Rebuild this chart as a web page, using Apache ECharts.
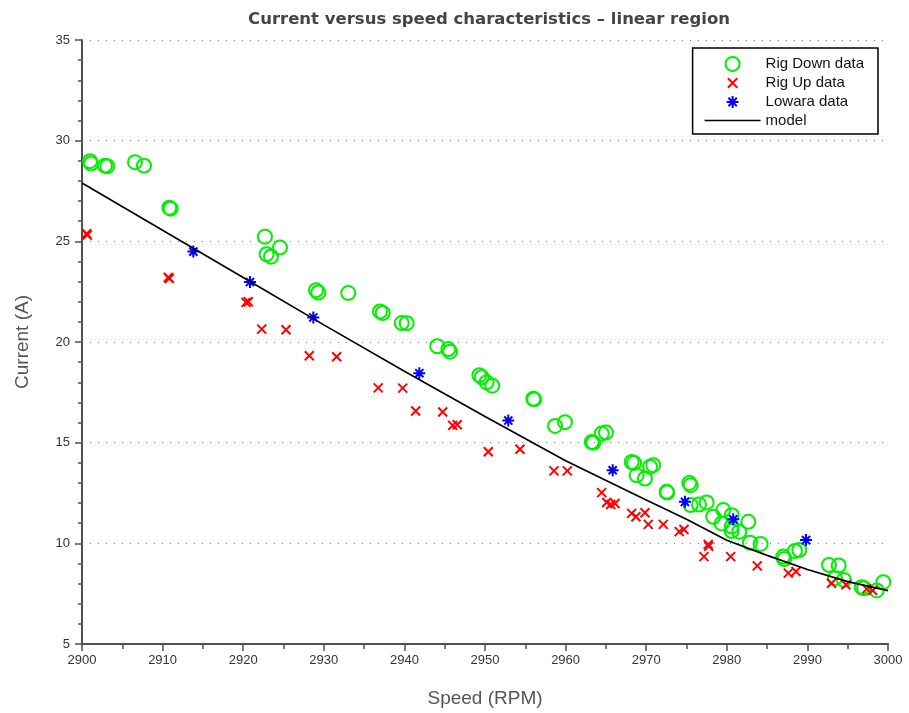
<!DOCTYPE html>
<html>
<head>
<meta charset="utf-8">
<script src="https://cdn.jsdelivr.net/npm/echarts@6/dist/echarts.min.js"></script>
<style>
html,body{margin:0;padding:0;background:#fff;}
#chart{width:909px;height:713px;}
</style>
</head>
<body>
<div id="chart"></div>
<script>
// ---- data ----
const seriesNames = ['Rig Down data', 'Rig Up data', 'Lowara data', 'model'];

const rigDown = [
  [2900.99, 28.98], [2901.12, 28.86], [2902.85, 28.76], [2903.14, 28.73],
  [2906.58, 28.93], [2907.69, 28.76], [2910.83, 26.67], [2911.0, 26.62],
  [2922.7, 25.23], [2922.9, 24.36], [2923.45, 24.24], [2924.57, 24.69],
  [2929.03, 22.57], [2929.32, 22.46], [2933.04, 22.43],
  [2936.97, 21.52], [2937.31, 21.44], [2939.67, 20.94], [2940.29, 20.93],
  [2944.08, 19.79], [2945.45, 19.65], [2945.66, 19.52],
  [2949.3, 18.35], [2949.6, 18.25], [2950.2, 18.0], [2950.9, 17.83],
  [2956.0, 17.18], [2956.1, 17.15], [2958.7, 15.83], [2959.93, 16.02],
  [2963.24, 15.03], [2963.44, 14.99], [2964.48, 15.45], [2965.01, 15.5],
  [2968.2, 14.04], [2968.49, 13.99], [2968.82, 13.38], [2969.85, 13.22],
  [2970.47, 13.8], [2970.88, 13.88], [2972.54, 12.56], [2972.6, 12.52],
  [2975.35, 13.0], [2975.52, 12.89], [2975.52, 11.9], [2976.55, 11.93],
  [2977.5, 12.03], [2978.32, 11.32], [2979.57, 11.65], [2979.37, 10.99],
  [2980.61, 11.4], [2980.61, 10.83], [2980.61, 10.61], [2981.55, 10.58],
  [2982.67, 11.07], [2982.88, 10.03], [2984.2, 9.97],
  [2987.0, 9.34], [2987.13, 9.22], [2988.46, 9.62], [2989.0, 9.67],
  [2992.68, 8.93], [2993.88, 8.9], [2993.42, 8.27], [2994.54, 8.18],
  [2996.74, 7.82], [2997.02, 7.77], [2998.6, 7.66], [2999.42, 8.07]
];

const rigUp = [
  [2900.58, 25.38], [2900.66, 25.31], [2910.71, 23.2], [2910.83, 23.15],
  [2920.35, 21.97], [2920.63, 22.0], [2922.3, 20.64], [2925.31, 20.61],
  [2928.2, 19.32], [2931.6, 19.27], [2936.76, 17.72], [2939.79, 17.71],
  [2941.4, 16.57], [2944.75, 16.52], [2945.99, 15.86], [2946.56, 15.89],
  [2950.41, 14.55], [2954.34, 14.67], [2958.56, 13.6], [2960.21, 13.6],
  [2964.48, 12.52], [2965.1, 12.03], [2965.6, 11.93], [2966.13, 11.98],
  [2968.2, 11.49], [2968.73, 11.32], [2969.85, 11.52], [2970.26, 10.94],
  [2972.12, 10.94], [2974.1, 10.58], [2974.69, 10.69],
  [2977.7, 9.95], [2977.75, 9.85], [2977.17, 9.34], [2980.48, 9.34],
  [2983.78, 8.88], [2987.63, 8.52], [2988.59, 8.6],
  [2993.0, 8.02], [2994.79, 7.94], [2997.36, 7.74], [2998.1, 7.66]
];

const lowara = [
  [2913.81, 24.49], [2920.84, 22.98], [2928.7, 21.22], [2941.85, 18.45],
  [2952.89, 16.1], [2965.84, 13.63], [2974.81, 12.06], [2980.8, 11.19],
  [2989.83, 10.16]
];

const model = [
  [2900, 27.9], [2910, 25.55], [2920, 23.2], [2930, 20.85], [2940, 18.55],
  [2950, 16.3], [2960, 14.1], [2970, 12.15], [2975, 11.2], [2980, 10.15],
  [2985, 9.4], [2990, 8.7], [2995, 8.1], [3000, 7.65]
];

const xTicks = { min: 2900, max: 3000, interval: 10 };
const yTicks = { min: 5, max: 35, interval: 5 };

// ---- chart ----
const chart = echarts.init(document.getElementById('chart'), null, { renderer: 'canvas' });

const crossPath = 'path://M0,0L10,10M10,0L0,10';
const starPath = 'path://M5,0L5,10M0,5L10,5M1.6,1.6L8.4,8.4M8.4,1.6L1.6,8.4';
const crossLegend = 'path://M0,0M14,14M2.3,2.3L11.7,11.7M11.7,2.3L2.3,11.7';
const starLegend = 'path://M0,0M14,14M7,1L7,13M1,7L13,7M2.8,2.8L11.2,11.2M11.2,2.8L2.8,11.2';
const lineLegend = 'path://M0,0L56,0L56,1.7L0,1.7Z';
const axisColor = '#505050';
const font = '"Liberation Sans", Arial, sans-serif';

chart.setOption({
  animation: false,
  backgroundColor: '#fff',
  title: {
    text: 'Current versus speed characteristics \u2013 linear region',
    left: 484, top: 6, textAlign: 'center',
    textStyle: { fontFamily: '"DejaVu Sans", sans-serif', fontSize: 16.5, fontWeight: 'bold', color: '#444' }
  },
  grid: { left: 82, right: 21, top: 40, bottom: 67, containLabel: false },
  legend: {
    orient: 'vertical',
    right: 31, top: 48,
    padding: [8, 14, 6, 12],
    itemWidth: 56, itemHeight: 14, itemGap: 3,
    borderColor: '#000', borderWidth: 1.5, backgroundColor: '#fff',
    textStyle: { fontFamily: font, fontSize: 15, color: '#111' },
    data: [
      { name: seriesNames[0] },
      { name: seriesNames[1], icon: crossLegend },
      { name: seriesNames[2], icon: starLegend },
      { name: seriesNames[3], icon: lineLegend, itemStyle: { color: '#000', borderWidth: 0 } }
    ]
  },
  xAxis: {
    type: 'value', min: xTicks.min, max: xTicks.max, interval: xTicks.interval,
    name: 'Speed (RPM)', nameLocation: 'middle', nameGap: 45,
    nameTextStyle: { fontFamily: font, fontSize: 19, color: '#555' },
    axisLine: { show: true, onZero: false, lineStyle: { color: axisColor, width: 2 } },
    axisTick: { show: true, inside: false, length: 7, lineStyle: { color: axisColor, width: 1.5 } },
    minorTick: { show: true, splitNumber: 2, length: 5, lineStyle: { color: axisColor, width: 1.5 } },
    axisLabel: { margin: 10, fontFamily: font, fontSize: 13, color: '#333', formatter: v => String(v) },
    splitLine: { show: false }
  },
  yAxis: {
    type: 'value', min: yTicks.min, max: yTicks.max, interval: yTicks.interval,
    name: 'Current (A)', nameLocation: 'middle', nameGap: 50,
    nameTextStyle: { fontFamily: font, fontSize: 19, color: '#555' },
    axisLine: { show: true, onZero: false, lineStyle: { color: axisColor, width: 2 } },
    axisTick: { show: true, inside: false, length: 7, lineStyle: { color: axisColor, width: 1.5 } },
    minorTick: { show: true, splitNumber: 5, length: 4, lineStyle: { color: axisColor, width: 1.5 } },
    axisLabel: { margin: 12, fontFamily: font, fontSize: 13, color: '#333', formatter: v => String(v) },
    splitLine: { show: true, lineStyle: { color: '#777', width: 1, type: [1, 7] } }
  },
  series: [
    {
      name: seriesNames[0], type: 'scatter', data: rigDown,
      symbol: 'circle', symbolSize: 14,
      itemStyle: { color: 'rgba(0,0,0,0)', borderColor: '#00f000', borderWidth: 2, opacity: 1 },
      z: 2
    },
    {
      name: seriesNames[1], type: 'scatter', data: rigUp,
      symbol: crossPath, symbolSize: 9,
      itemStyle: { color: 'rgba(0,0,0,0)', borderColor: '#ff0000', borderWidth: 2, opacity: 1 },
      z: 3
    },
    {
      name: seriesNames[2], type: 'scatter', data: lowara,
      symbol: starPath, symbolSize: 12,
      itemStyle: { color: 'rgba(0,0,0,0)', borderColor: '#0000ff', borderWidth: 2, opacity: 1 },
      z: 4
    },
    {
      name: seriesNames[3], type: 'line', data: model,
      symbol: 'none', smooth: false,
      lineStyle: { color: '#000', width: 1.7 },
      itemStyle: { color: '#000' },
      z: 5
    }
  ]
});
</script>
</body>
</html>
